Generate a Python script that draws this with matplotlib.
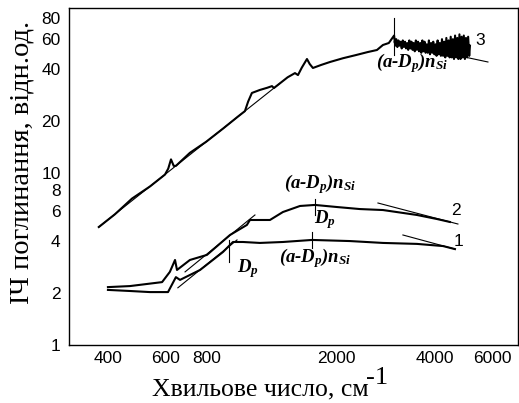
import matplotlib
matplotlib.use('Agg')
import matplotlib.pyplot as plt

plt.rcParams['mathtext.fontset'] = 'custom'
plt.rcParams['mathtext.it'] = 'Liberation Serif:italic:bold'
plt.rcParams['mathtext.rm'] = 'Liberation Serif:bold'

# спектр 3 (верхній)
curve3_x = [375, 420, 474, 538, 598, 612, 624, 636, 646, 713, 800, 900, 1001, 1051, 1075, 1104,
            1168, 1230, 1272, 1290, 1345, 1420, 1496, 1528, 1570, 1628, 1660, 1698, 1800, 1915,
            2100, 2300, 2500, 2667, 2782, 2900,
            3010, 3033, 3056, 3080, 3104, 3128, 3152, 3176, 3200, 3225,
            3250, 3275, 3300, 3325, 3351, 3377, 3403, 3429, 3455, 3482,
            3509, 3536, 3563, 3590, 3618, 3646, 3674, 3702, 3731, 3760,
            3789, 3818, 3847, 3877, 3907, 3937, 3967, 3998, 4029, 4060,
            4091, 4123, 4155, 4187, 4219, 4252, 4285, 4318, 4351, 4385,
            4419, 4453, 4487, 4522, 4557, 4592, 4627, 4663, 4699, 4735,
            4772, 4809, 4846, 4883, 4921, 4959, 4997, 5035, 5074, 5113, 5140]
curve3_y = [4.85, 5.75, 7.1, 8.35, 9.79, 10.6, 12.0, 11.0, 11.0, 13.1, 15.2, 18.1, 21.3, 22.9, 26.0, 29.2,
            30.4, 31.3, 32.0, 31.2, 33.2, 36.0, 38.1, 37.1, 41.0, 46.0, 43.0, 40.8, 42.5, 44.2,
            46.5, 48.5, 50.5, 51.9, 55.5, 57.0,
            63, 55, 60, 54, 59, 55, 58, 53, 59, 54,
            58, 53, 57, 52, 59, 53, 58, 52, 57, 51,
            59, 52, 58, 51, 57, 50, 59, 51, 58, 50,
            56, 50, 59, 49, 57, 50, 58, 49, 56, 48,
            59, 49, 57, 48, 60, 48, 58, 47, 61, 48,
            59, 47, 62, 47, 60, 46, 63, 47, 61, 46,
            64, 46, 62, 47, 63, 46, 61, 47, 62, 48, 55]

# спектр 2
curve2_x = [400, 467, 586, 619, 642, 651, 713, 804, 946, 1066, 1089, 1254, 1374, 1550, 1722,
            2012, 2365, 2782, 3536, 4071, 4462]
curve2_y = [2.17, 2.20, 2.32, 2.66, 3.12, 2.73, 3.12, 3.34, 4.36, 4.99, 5.33, 5.33, 5.93, 6.43, 6.52,
            6.34, 6.17, 6.09, 5.70, 5.40, 5.19]

# спектр 1
curve1_x = [400, 467, 538, 611, 646, 665, 766, 900, 966, 1037, 1168, 1374, 1687, 2204, 2782,
            3536, 4248, 4623]
curve1_y = [2.09, 2.06, 2.03, 2.03, 2.48, 2.39, 2.73, 3.47, 3.97, 3.97, 3.92, 3.97, 4.08, 4.02, 3.92,
            3.87, 3.76, 3.61]

# дотичні
fit3a_x, fit3a_y = [375, 1345], [4.85, 33.2]
fit3b_x, fit3b_y = [3007, 5834], [57.8, 44.2]
fit2a_x, fit2a_y = [689, 1128], [2.66, 5.70]
fit2b_x, fit2b_y = [2686, 4721], [6.69, 5.05]
fit1a_x, fit1a_y = [655, 994], [2.15, 4.08]
fit1b_x, fit1b_y = [3203, 4623], [4.36, 3.61]

# вертикальні позначки
mark3_x, mark3_y = [3007, 3007], [48.5, 79.7]
mark2_x, mark2_y = [1722, 1722], [5.70, 7.06]
mark1a_x, mark1a_y = [939, 939], [3.04, 4.08]
mark1b_x, mark1b_y = [1687, 1687], [3.66, 4.54]

xticks = [400, 600, 800, 2000, 4000, 6000]
yticks = [1, 2, 4, 6, 8, 10, 20, 40, 60, 80]

fig = plt.figure(figsize=(5.19, 4.03), dpi=100)
ax = fig.add_axes([0.133, 0.144, 0.865, 0.836])

ax.plot(curve3_x, curve3_y, color='black', lw=1.5)
ax.plot(curve2_x, curve2_y, color='black', lw=1.5)
ax.plot(curve1_x, curve1_y, color='black', lw=1.5)

for fx, fy in [(fit3a_x, fit3a_y), (fit3b_x, fit3b_y), (fit2a_x, fit2a_y),
               (fit2b_x, fit2b_y), (fit1a_x, fit1a_y), (fit1b_x, fit1b_y)]:
    ax.plot(fx, fy, color='black', lw=0.8)
for mx, my in [(mark3_x, mark3_y), (mark2_x, mark2_y), (mark1a_x, mark1a_y), (mark1b_x, mark1b_y)]:
    ax.plot(mx, my, color='black', lw=0.8)

ax.set_xscale('log')
ax.set_yscale('log')
ax.set_xlim(304, 7210)
ax.set_ylim(1, 91)
ax.set_xticks(xticks)
ax.set_xticklabels([str(t) for t in xticks])
ax.set_yticks(yticks)
ax.set_yticklabels([str(t) for t in yticks])
ax.minorticks_off()
ax.tick_params(length=0, labelsize=12.5)
ax.tick_params(axis='x', pad=4)
ax.tick_params(axis='y', pad=6)
for lab in ax.get_xticklabels() + ax.get_yticklabels():
    lab.set_fontfamily('Liberation Sans')
for s in ax.spines.values():
    s.set_linewidth(1.0)

lbl = dict(family='Liberation Serif', weight='bold', style='italic', fontsize=13.5,
           ha='center', va='center')
ax.text(3414, 43.6, r'(a-$D_p$)$n_{Si}$', **lbl)
ax.text(1784, 8.63, r'(a-$D_p$)$n_{Si}$', **lbl)
ax.text(1719, 3.2, r'(a-$D_p$)$n_{Si}$', **lbl)
ax.text(1848, 5.33, r'$D_p$', **lbl)
ax.text(1074, 2.80, r'$D_p$', **lbl)

num = dict(family='Liberation Sans', fontsize=12.5, ha='center', va='center')
ax.text(5514, 59.3, '3', **num)
ax.text(4656, 6.09, '2', **num)
ax.text(4740, 4.02, '1', **num)

fig.text(22 / 519, 1 - 162 / 403, 'ІЧ поглинання, відн.од.', family='Liberation Serif',
         fontsize=20.5, rotation=90, ha='center', va='center')
fig.text(152 / 519, 1 - 395 / 403, 'Хвильове число, см', family='Liberation Serif',
         fontsize=18.5, ha='left', va='baseline')
fig.text(366 / 519, 1 - 384 / 403, '-1', family='Liberation Serif',
         fontsize=19, ha='left', va='baseline')

fig.savefig('out.png', dpi=100)
